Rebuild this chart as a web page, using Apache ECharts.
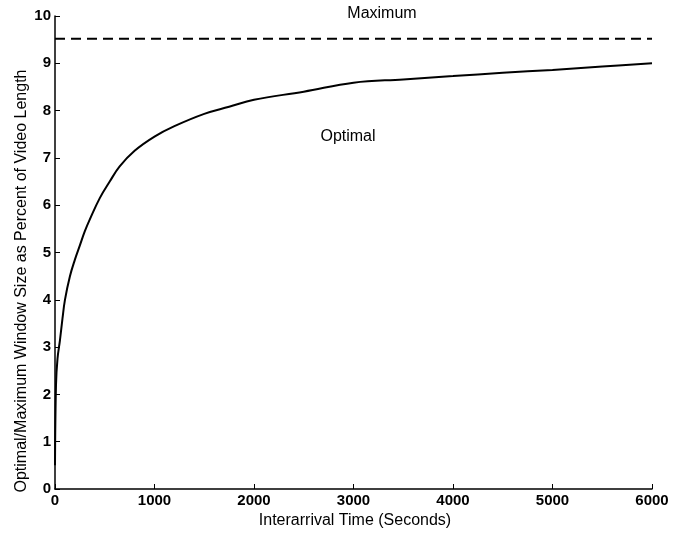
<!DOCTYPE html>
<html>
<head>
<meta charset="utf-8">
<script src="https://cdn.jsdelivr.net/npm/echarts@6/dist/echarts.min.js"></script>
<style>
  html, body { margin: 0; padding: 0; background: #fff; }
  #chart { width: 689px; height: 537px; }
</style>
</head>
<body>
<div id="chart"></div>
<script>
// interarrival time (s) and optimal window size (% of video length)
var optimalX = [0, 10, 25, 50, 75, 100, 150, 200, 250, 300, 350, 450, 550, 650, 800, 1000, 1200, 1500, 1750, 2000, 2500, 3000, 3500, 4000, 4500, 5000, 5500, 6000]
var optimalY = [0.5, 2.2, 2.75, 3.15, 3.6, 4.0, 4.5, 4.85, 5.15, 5.45, 5.7, 6.15, 6.5, 6.82, 7.15, 7.45, 7.67, 7.93, 8.08, 8.23, 8.4, 8.59, 8.66, 8.73, 8.8, 8.86, 8.93, 9.0]
var maximumX = [0, 6000]
var maximumY = [9.52, 9.52]

function pairs(xs, ys) {
    var out = []
    for (var i = 0; i < xs.length; i++) {
        out.push([xs[i], ys[i]])
    }
    return out
}

var font = 'Liberation Sans, Arial, sans-serif'
var chart = echarts.init(document.getElementById('chart'))

chart.setOption({
    animation: false,
    backgroundColor: '#fff',
    grid: {
        left: 55,
        right: 37,
        top: 16,
        bottom: 48
    },
    xAxis: {
        type: 'value',
        min: 0,
        max: 6000,
        interval: 1000,
        axisLine: { lineStyle: { color: '#000', width: 1.5 } },
        axisTick: { inside: true, length: 5, lineStyle: { color: '#000' } },
        axisLabel: {
            color: '#000', fontSize: 15, fontWeight: 'bold', fontFamily: font, margin: 4,
            formatter: function (v) { return String(v) }
        },
        splitLine: { show: false }
    },
    yAxis: {
        type: 'value',
        min: 0,
        max: 10,
        interval: 1,
        axisLine: { show: true, lineStyle: { color: '#000', width: 1.5 } },
        axisTick: { show: true, inside: true, length: 5, lineStyle: { color: '#000' } },
        axisLabel: { color: '#000', fontSize: 15, fontWeight: 'bold', fontFamily: font, margin: 4 },
        splitLine: { show: false }
    },
    series: [
        {
            name: 'Optimal',
            type: 'line',
            data: pairs(optimalX, optimalY),
            smooth: 0.4,
            showSymbol: false,
            lineStyle: { color: '#000', width: 2 }
        },
        {
            name: 'Maximum',
            type: 'line',
            data: pairs(maximumX, maximumY),
            showSymbol: false,
            lineStyle: { color: '#000', width: 2, type: [10, 6] }
        }
    ],
    graphic: [
        {
            type: 'text',
            x: 382,
            y: 14,
            style: { text: 'Maximum', fill: '#000', fontSize: 16, fontFamily: font, align: 'center', verticalAlign: 'middle' }
        },
        {
            type: 'text',
            x: 348,
            y: 137,
            style: { text: 'Optimal', fill: '#000', fontSize: 16, fontFamily: font, align: 'center', verticalAlign: 'middle' }
        },
        {
            type: 'text',
            x: 355,
            y: 521,
            style: { text: 'Interarrival Time (Seconds)', fill: '#000', fontSize: 16, fontFamily: font, align: 'center', verticalAlign: 'middle' }
        },
        {
            type: 'text',
            x: 22,
            y: 281,
            rotation: Math.PI / 2,
            style: { text: 'Optimal/Maximum Window Size as Percent of Video Length', fill: '#000', fontSize: 16, fontFamily: font, align: 'center', verticalAlign: 'middle' }
        }
    ]
})
</script>
</body>
</html>
